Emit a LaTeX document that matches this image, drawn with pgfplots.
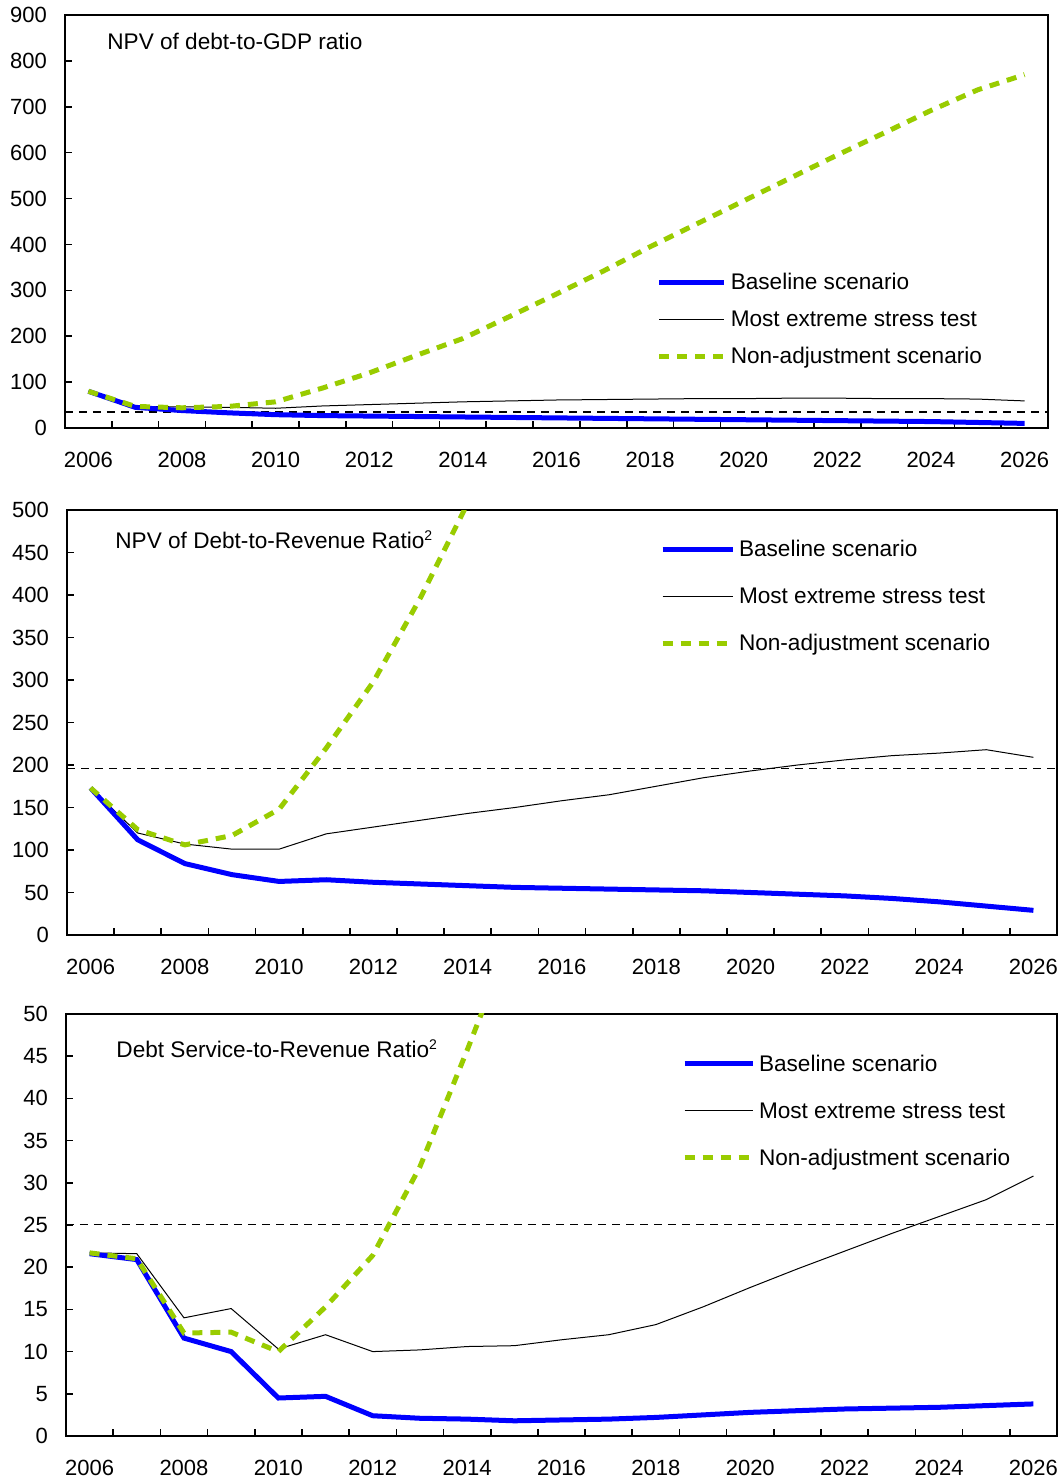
\documentclass[border=0pt]{standalone}
\usepackage{pgfplots}
\pgfplotsset{compat=1.18}
\usepackage{pgfplotstable}
\usepackage{fontspec}
\setmainfont{Liberation Sans}
\definecolor{base}{RGB}{0,0,255}
\definecolor{nonadj}{RGB}{153,204,0}

\pgfplotstableread{
x base stress nonadj
0  80 80 80
1  45 47 47
2  38 46 44
3  33 45 47
4  29 43 57
5  27 48 87
6  26 51 120
7  25 54 158
8  24 57 195
9  23 59 243
10 22 61 292
11 21 62 342
12 20 63 395
13 19 64 445
14 18 64 495
15 17 65 545
16 16 65 595
17 15 64 643
18 14 64 692
19 12 63 737
20 10 59 770
}\tableA

\pgfplotstableread{
x base stress nonadj
0  173 173 173
1  112 120 124
2  84 107 106
3  71 101 117
4  63 101 148
5  65 119 220
6  62 127 298
7  60 135 397
8  58 143 508
9  56 150 620
10 55 158 nan
11 54 165 nan
12 53 175 nan
13 52 185 nan
14 50 193 nan
15 48 200 nan
16 46 206 nan
17 43 211 nan
18 39 214 nan
19 34 218 nan
20 29 209 nan
}\tableB

\pgfplotstableread{
x base stress nonadj
0  21.6 21.7 21.7
1  20.9 21.6 21.0
2  11.6 14.0 12.2
3  10.0 15.1 12.3
4  4.5 10.3 10.0
5  4.7 12.0 15.3
6  2.4 10.0 21.4
7  2.1 10.2 31.9
8  2.0 10.6 45.7
9  1.8 10.7 60
10 1.9 11.4 nan
11 2.0 12.0 nan
12 2.2 13.2 nan
13 2.5 15.3 nan
14 2.8 17.6 nan
15 3.0 19.8 nan
16 3.2 21.9 nan
17 3.3 24.0 nan
18 3.4 26.0 nan
19 3.6 28.0 nan
20 3.8 30.8 nan
}\tableC

\pgfplotsset{
  panel/.style={
    scale only axis,
    xmin=-0.5, xmax=20.5, ymin=0,
    enlargelimits=false,
    axis line style={line width=1.1pt},
    tick align=inside, tick pos=left,
    xtick={0.5,1.5,...,19.5}, xticklabels={},
    extra x ticks={0,2,...,20},
    extra x tick labels={2006,2008,2010,2012,2014,2016,2018,2020,2022,2024,2026},
    extra x tick style={major tick length=0pt},
    major tick length=3.5pt,
    tick style={black, line width=0.8pt},
    xticklabel style={yshift=-8.5pt},
    yticklabel style={xshift=-5.5pt},
    /pgf/number format/assume math mode=true,
    /pgf/number format/1000 sep={},
    every tick label/.append style={font=\fontsize{11}{13}\selectfont},
    legend cell align=left,
    legend style={draw=none, fill=none, inner sep=0pt, outer sep=0pt,
      font=\fontsize{11.3}{13}\selectfont,
      nodes={inner sep=0pt, text height=8pt, text depth=2.5pt},
      column sep=2pt},
  },
  baseS/.style={color=base, line width=2.5pt},
  stressS/.style={black, line width=0.5pt},
  nonS/.style={color=nonadj, line width=2.5pt, dash pattern=on 5pt off 4pt},
  thrS/.style={black, line width=0.6pt, dash pattern=on 4pt off 3pt},
}

\begin{document}
\begin{tikzpicture}[font=\fontsize{11.3}{13}\selectfont]
\useasboundingbox (0,0) rectangle (529pt,742pt);

% Panel 1
\begin{axis}[panel, at={(32.5pt,528pt)}, anchor=south west,
  width=491.5pt, height=206.5pt, ymax=900, ytick={0,100,...,900},
  legend style={at={(0.602,0.374)}, anchor=north west, row sep=8pt},
  legend image code/.code={\draw[#1] (0pt,1pt) -- (32.5pt,1pt);}]
\addlegendimage{baseS}\addlegendentry{Baseline scenario}
\addlegendimage{stressS}\addlegendentry{Most extreme stress test}
\addlegendimage{nonS}\addlegendentry{Non-adjustment scenario}
\addplot[thrS, forget plot] coordinates {(-0.5,35) (20.5,35)};
\addplot[stressS, forget plot] table[x=x, y=stress] {\tableA};
\addplot[baseS, forget plot] table[x=x, y=base] {\tableA};
\addplot[nonS, forget plot] table[x=x, y=nonadj] {\tableA};
\node[anchor=base west, inner sep=0pt] at (rel axis cs:0.0427,0.9165) {NPV of debt-to-GDP ratio};
\end{axis}

% Panel 2
\begin{axis}[panel, at={(33.5pt,274.5pt)}, anchor=south west,
  width=495pt, height=212.5pt, ymax=500, ytick={0,50,...,500},
  legend style={at={(0.599,0.928)}, anchor=north west, row sep=13pt},
  legend image code/.code={\draw[#1] (0pt,1pt) -- (35pt,1pt);}]
\addlegendimage{baseS}\addlegendentry{Baseline scenario}
\addlegendimage{stressS}\addlegendentry{Most extreme stress test}
\addlegendimage{nonS}\addlegendentry{Non-adjustment scenario}
\addplot[thrS, forget plot] coordinates {(-0.5,196) (20.5,196)};
\addplot[stressS, forget plot] table[x=x, y=stress] {\tableB};
\addplot[baseS, forget plot] table[x=x, y=base] {\tableB};
\addplot[nonS, forget plot] table[x=x, y=nonadj] {\tableB};
\node[anchor=base west, inner sep=0pt] at (rel axis cs:0.0485,0.9094) {NPV of Debt-to-Revenue Ratio\textsuperscript{\scriptsize 2}};
\end{axis}

% Panel 3
\begin{axis}[panel, at={(33pt,24pt)}, anchor=south west,
  width=495.5pt, height=211pt, ymax=50, ytick={0,5,...,50},
  legend style={at={(0.6216,0.9017)}, anchor=north west, row sep=13pt},
  legend image code/.code={\draw[#1] (0pt,1pt) -- (34pt,1pt);}]
\addlegendimage{baseS}\addlegendentry{Baseline scenario}
\addlegendimage{stressS}\addlegendentry{Most extreme stress test}
\addlegendimage{nonS}\addlegendentry{Non-adjustment scenario}
\addplot[thrS, forget plot] coordinates {(-0.5,25.1) (20.5,25.1)};
\addplot[stressS, forget plot] table[x=x, y=stress] {\tableC};
\addplot[baseS, forget plot] table[x=x, y=base] {\tableC};
\addplot[nonS, forget plot] table[x=x, y=nonadj] {\tableC};
\node[anchor=base west, inner sep=0pt] at (rel axis cs:0.0505,0.897) {Debt Service-to-Revenue Ratio\textsuperscript{\scriptsize 2}};
\end{axis}
\end{tikzpicture}
\end{document}
